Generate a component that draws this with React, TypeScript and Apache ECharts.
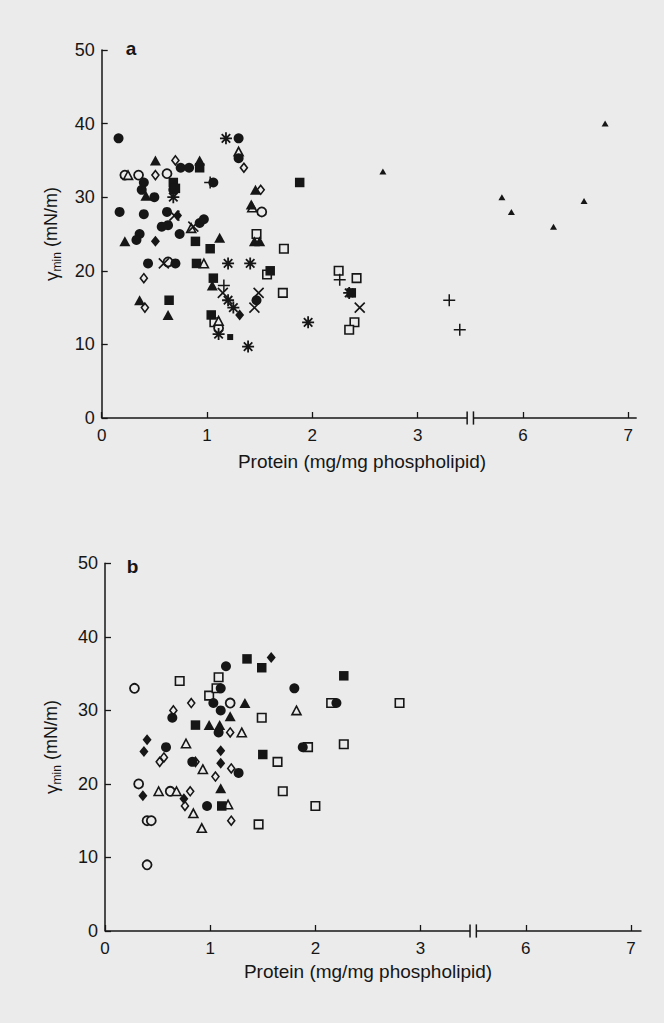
import React, { useEffect, useRef } from 'react';
import * as echarts from 'echarts';

const BG = '#ebebeb';
const INK = '#161616';
const FONT = '"Liberation Sans", Arial, Helvetica, sans-serif';

// ---- axis tick labels ----
const xTickLabels = [0, 1, 2, 3, 6, 7];
const yTickLabels = [0, 10, 20, 30, 40, 50];
// broken x axis: values above BREAK_AT are shifted left by AXIS_SHIFT
const BREAK_AT = 3.5;
const AXIS_SHIFT = 2;

// ---- panel a data (protein mg/mg phospholipid, gamma_min mN/m) ----
const aFilledCircle = [
  [0.16, 38], [0.17, 28], [0.4, 27.7], [0.62, 28], [0.57, 26], [0.63, 26.2], [0.93, 26.5], [0.97, 27],
  [0.36, 25], [0.33, 24.2], [0.74, 25], [0.44, 21], [0.7, 21], [0.4, 32], [0.38, 31], [0.5, 30],
  [0.68, 31], [0.75, 34], [0.83, 34], [1.3, 38], [1.3, 35.3], [1.06, 32], [1.47, 16],
];
const aOpenCircle = [[0.22, 33], [0.35, 33], [0.62, 33.2], [0.63, 21.2], [1.52, 28], [1.11, 12.2]];
const aFilledTriangle = [
  [0.51, 35], [0.93, 35], [0.42, 30.2], [1.42, 29], [1.46, 31], [0.22, 24], [1.12, 24.5],
  [1.45, 24], [1.5, 24], [1.05, 18], [0.36, 16], [0.63, 14],
];
const aOpenTriangle = [[1.3, 36.2], [0.85, 25.8], [0.97, 21], [1.11, 13.2], [0.25, 33], [1.43, 28.6]];
const aFilledSquare = [
  [0.93, 34], [0.68, 32], [0.7, 31.2], [1.88, 32], [0.89, 24], [1.03, 23], [0.9, 21], [1.06, 19],
  [1.6, 20], [0.64, 16], [1.04, 14], [2.37, 17],
];
const aOpenSquare = [
  [1.47, 25], [1.73, 23], [1.57, 19.5], [1.72, 17], [1.07, 13], [2.25, 20], [2.42, 19], [2.4, 13], [2.35, 12],
];
const aFilledDiamond = [[0.72, 27.5], [0.51, 24], [1.31, 14]];
const aOpenDiamond = [[0.7, 35], [0.51, 33], [1.35, 34], [1.51, 31], [0.4, 19], [0.41, 15]];
const aPlus = [[1.03, 32], [1.16, 18], [2.26, 18.8], [3.3, 16], [3.4, 12]];
const aCross = [[0.69, 27.5], [0.59, 21], [1.15, 17], [1.49, 17], [1.45, 15], [2.45, 15], [0.87, 26]];
const aAsterisk = [
  [1.18, 38], [0.68, 30], [1.2, 21], [1.41, 21], [1.2, 16], [1.25, 15], [1.11, 11.4], [1.39, 9.7],
  [1.96, 13], [2.35, 17],
];
const aSmallTriangle = [[2.67, 33.5], [5.8, 30], [5.89, 28], [6.29, 26], [6.58, 29.5], [6.78, 40]];
const aSmallSquare = [[1.22, 11]];

// ---- panel b data ----
const bFilledCircle = [
  [0.64, 29], [1.03, 31], [1.15, 36], [1.1, 33], [1.1, 30], [1.08, 27], [1.8, 33], [2.2, 31],
  [0.58, 25], [0.83, 23], [1.27, 21.5], [0.97, 17], [1.88, 25],
];
const bOpenCircle = [[0.28, 33], [1.19, 31], [0.32, 20], [0.62, 19], [0.4, 15], [0.44, 15], [0.4, 9]];
const bFilledTriangle = [[0.99, 28], [1.09, 28], [1.19, 29.2], [1.33, 31], [1.1, 19.4]];
const bOpenTriangle = [
  [1.3, 27], [1.82, 30], [0.77, 25.5], [0.93, 22], [1.17, 17.2], [0.92, 14], [0.84, 16], [0.68, 19], [0.51, 19],
];
const bFilledSquare = [[0.86, 28], [1.35, 37], [1.49, 35.8], [2.27, 34.7], [1.5, 24], [1.11, 17]];
const bOpenSquare = [
  [0.71, 34], [0.99, 32], [1.08, 34.5], [1.06, 33], [1.49, 29], [2.15, 31], [2.8, 31], [1.64, 23],
  [1.69, 19], [2.0, 17], [1.46, 14.5], [1.93, 25], [2.27, 25.4],
];
const bFilledDiamond = [[1.58, 37.2], [0.4, 26], [0.37, 24.4], [1.1, 24.5], [1.1, 22.8], [0.75, 18], [0.36, 18.4]];
const bOpenDiamond = [
  [0.82, 31], [0.65, 30], [1.19, 27], [0.52, 23], [0.56, 23.6], [0.86, 23], [1.05, 21], [1.2, 22.1],
  [1.2, 15], [0.76, 17], [0.81, 19],
];

const PLUS = 'path://M5,0L5,10M0,5L10,5';
const CROSS = 'path://M0,0L10,10M10,0L0,10';
const STAR = 'path://M5,0L5,10M0,5L10,5M1.46,1.46L8.54,8.54M8.54,1.46L1.46,8.54';

type Mk = { symbol: string; size: number | number[]; fill?: string; stroke?: number };
const MK: Record<string, Mk> = {
  filledCircle: { symbol: 'circle', size: 10, fill: INK },
  openCircle: { symbol: 'circle', size: 9, fill: BG, stroke: 1.8 },
  filledTriangle: { symbol: 'triangle', size: [11, 10], fill: INK },
  openTriangle: { symbol: 'triangle', size: [9, 8.5], fill: BG, stroke: 1.6 },
  filledSquare: { symbol: 'rect', size: 9.5, fill: INK },
  openSquare: { symbol: 'rect', size: 8.5, fill: BG, stroke: 1.6 },
  filledDiamond: { symbol: 'diamond', size: [9, 11], fill: INK },
  openDiamond: { symbol: 'diamond', size: [7, 9], fill: BG, stroke: 1.6 },
  plus: { symbol: PLUS, size: 12, stroke: 1.5 },
  cross: { symbol: CROSS, size: 10, stroke: 1.6 },
  asterisk: { symbol: STAR, size: 12, stroke: 1.8 },
  smallTriangle: { symbol: 'triangle', size: [7, 6], fill: INK },
  smallSquare: { symbol: 'rect', size: 6, fill: INK },
};

const toAxis = (x: number) => (x > BREAK_AT ? x - AXIS_SHIFT : x);
const tickPos = xTickLabels.map(toAxis);
const fmtX = (v: number) => {
  const i = tickPos.findIndex((p) => Math.abs(p - v) < 1e-6);
  return i >= 0 ? String(xTickLabels[i]) : '';
};

function scatter(data: number[][], mk: Mk, panel: number) {
  const filled = mk.stroke === undefined;
  return {
    type: 'scatter',
    xAxisIndex: panel,
    yAxisIndex: panel,
    data: data.map(([x, y]) => [toAxis(x), y]),
    symbol: mk.symbol,
    symbolSize: mk.size,
    silent: true,
    itemStyle: filled
      ? { color: mk.fill, opacity: 1 }
      : { color: mk.fill ?? 'rgba(0,0,0,0)', borderColor: INK, borderWidth: mk.stroke, opacity: 1 },
  };
}

function axisSeg(points: number[][], panel: number) {
  return {
    type: 'line',
    xAxisIndex: panel,
    yAxisIndex: panel,
    data: points,
    symbol: 'none',
    clip: false,
    silent: true,
    lineStyle: { color: INK, width: 1.5 },
    z: 5,
  };
}

const PANELS = [
  { left: 101.7, top: 50, width: 535, height: 368, xMax: 5.08 },
  { left: 105, top: 563.3, width: 536.5, height: 367.7, xMax: 5.1 },
];
const GAP_L = 3.47;
const GAP_R = 3.53;

export default function App() {
  const ref = useRef<HTMLDivElement>(null);
  useEffect(() => {
    document.body.style.margin = '0';
    document.body.style.background = BG;
    const chart = echarts.init(ref.current!, null, { renderer: 'svg' });

    const series: any[] = [];
    PANELS.forEach((p, i) => {
      series.push(axisSeg([[0, 0], [GAP_L, 0]], i));
      series.push(axisSeg([[GAP_R, 0], [p.xMax, 0]], i));
      series.push(axisSeg([[GAP_L, -0.9], [GAP_L, 0.9]], i));
      series.push(axisSeg([[GAP_R, -0.9], [GAP_R, 0.9]], i));
    });
    const aSets: [number[][], Mk][] = [
      [aOpenSquare, MK.openSquare], [aOpenCircle, MK.openCircle], [aOpenTriangle, MK.openTriangle],
      [aOpenDiamond, MK.openDiamond], [aFilledCircle, MK.filledCircle], [aFilledTriangle, MK.filledTriangle],
      [aFilledSquare, MK.filledSquare], [aFilledDiamond, MK.filledDiamond], [aPlus, MK.plus],
      [aCross, MK.cross], [aAsterisk, MK.asterisk], [aSmallTriangle, MK.smallTriangle], [aSmallSquare, MK.smallSquare],
    ];
    const bSets: [number[][], Mk][] = [
      [bOpenSquare, MK.openSquare], [bOpenCircle, MK.openCircle], [bOpenTriangle, MK.openTriangle],
      [bOpenDiamond, MK.openDiamond], [bFilledCircle, MK.filledCircle], [bFilledTriangle, MK.filledTriangle],
      [bFilledSquare, MK.filledSquare], [bFilledDiamond, MK.filledDiamond],
    ];
    aSets.forEach(([d, m]) => series.push(scatter(d, m, 0)));
    bSets.forEach(([d, m]) => series.push(scatter(d, m, 1)));

    const yTitle = (cx: number, cy: number) => ({
      type: 'text',
      x: cx,
      y: cy,
      rotation: Math.PI / 2,
      style: {
        text: '{g|γ}{s|min}{n| (mN/m)}',
        align: 'center',
        verticalAlign: 'middle',
        fill: INK,
        rich: {
          g: { fontSize: 19, fontFamily: FONT, lineHeight: 24, verticalAlign: 'middle', fill: INK },
          s: { fontSize: 12, fontFamily: FONT, verticalAlign: 'bottom', fill: INK },
          n: { fontSize: 18, fontFamily: FONT, lineHeight: 24, verticalAlign: 'middle', fill: INK },
        },
      },
    });
    const xTitle = (cx: number, cy: number) => ({
      type: 'text',
      x: cx,
      y: cy,
      style: {
        text: 'Protein (mg/mg phospholipid)',
        font: `19px ${FONT}`,
        align: 'center',
        verticalAlign: 'middle',
        fill: INK,
      },
    });
    const panelLabel = (t: string, cx: number, cy: number) => ({
      type: 'text',
      x: cx,
      y: cy,
      style: { text: t, font: `bold 19px ${FONT}`, align: 'center', verticalAlign: 'middle', fill: INK },
    });

    chart.setOption({
      animation: false,
      backgroundColor: BG,
      grid: PANELS.map((p) => ({ left: p.left, top: p.top, width: p.width, height: p.height, containLabel: false })),
      xAxis: PANELS.map((p, i) => ({
        gridIndex: i,
        type: 'value',
        min: 0,
        max: p.xMax,
        axisLine: { show: false },
        splitLine: { show: false },
        axisTick: { show: true, inside: true, length: 6, customValues: tickPos, lineStyle: { color: INK, width: 1.3 } },
        axisLabel: { customValues: tickPos, formatter: fmtX, fontSize: 17, color: INK, fontFamily: FONT, margin: 9 },
      })),
      yAxis: PANELS.map((p, i) => ({
        gridIndex: i,
        type: 'value',
        min: yTickLabels[0],
        max: yTickLabels[yTickLabels.length - 1],
        interval: 10,
        axisLine: { show: true, lineStyle: { color: INK, width: 1.5 } },
        splitLine: { show: false },
        axisTick: { show: true, inside: true, length: 6, lineStyle: { color: INK, width: 1.3 } },
        axisLabel: { fontSize: 18, color: INK, fontFamily: FONT, margin: 7 },
      })),
      graphic: [
        yTitle(51, 234),
        yTitle(51, 747),
        xTitle(362, 461),
        xTitle(368, 971),
        panelLabel('a', 131, 48.5),
        panelLabel('b', 132.5, 566.5),
      ],
      series,
    });
    return () => chart.dispose();
  }, []);
  return <div ref={ref} style={{ width: 664, height: 1023, background: BG }} />;
}
